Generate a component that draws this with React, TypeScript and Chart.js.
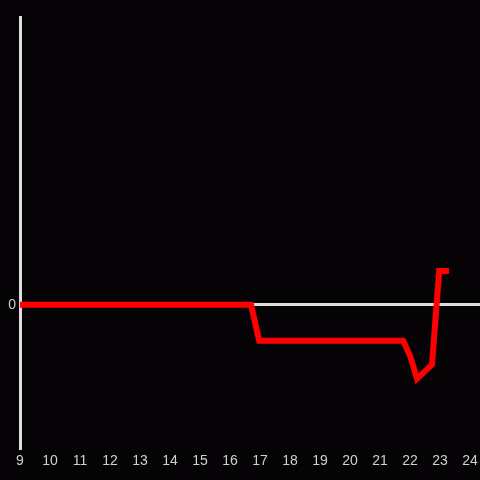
import React, { useEffect, useRef } from "react";
import { Chart, registerables } from "chart.js";

Chart.register(...registerables);

const hours = [9, 16.7, 16.97, 21.77, 22.0, 22.23, 22.73, 22.97, 23.3];
const values = [0, 0, -36, -36, -51, -74, -60, 34, 34];
const xTicks = [9, 10, 11, 12, 13, 14, 15, 16, 17, 18, 19, 20, 21, 22, 23, 24];
const yTicks = [0];

export default function App() {
  const ref = useRef<HTMLCanvasElement>(null);
  useEffect(() => {
    document.body.style.margin = "0";
    document.body.style.background = "#050305";
    const ctx = ref.current!;
    const chart = new Chart(ctx, {
      type: "line",
      data: {
        datasets: [
          {
            data: hours.map((h, i) => ({ x: h, y: values[i] })),
            borderColor: "#ff0000",
            borderWidth: 6,
            pointRadius: 0,
            tension: 0,
            fill: false,
          },
        ],
      },
      options: {
        responsive: false,
        animation: false,
        layout: { padding: { top: 17, right: 0, left: 0, bottom: 0 } },
        plugins: { legend: { display: false }, tooltip: { enabled: false } },
        scales: {
          x: {
            type: "linear",
            min: 9,
            max: 24.33,
            afterBuildTicks: (s: any) => {
              s.ticks = xTicks.map((v) => ({ value: v }));
            },
            afterFit: (s: any) => {
              s.height = 32;
              s.paddingLeft = 0;
              s.paddingRight = 0;
            },
            grid: { display: false, drawTicks: false },
            border: { display: false },
            ticks: {
              color: "#d0d0d0",
              font: { size: 14, family: "Liberation Sans, Arial, sans-serif" },
              padding: 5,
              maxRotation: 0,
              autoSkip: false,
              callback: (v: any) => String(v),
            },
          },
          y: {
            type: "linear",
            min: -143.5,
            max: 288.5,
            afterBuildTicks: (s: any) => {
              s.ticks = yTicks.map((v) => ({ value: v }));
            },
            afterFit: (s: any) => {
              s.width = 20;
              s.paddingTop = 0;
              s.paddingBottom = 0;
            },
            grid: { color: "#dddddd", lineWidth: 3, drawTicks: false },
            border: { display: true, color: "#dddddd", width: 3 },
            ticks: {
              color: "#d0d0d0",
              font: { size: 14, family: "Liberation Sans, Arial, sans-serif" },
              padding: 4,
              callback: (v: any) => String(v),
            },
          },
        },
      },
    });
    return () => chart.destroy();
  }, []);
  return (
    <div style={{ width: 480, height: 480, background: "#050305" }}>
      <canvas ref={ref} width={480} height={480} style={{ display: "block" }} />
    </div>
  );
}
